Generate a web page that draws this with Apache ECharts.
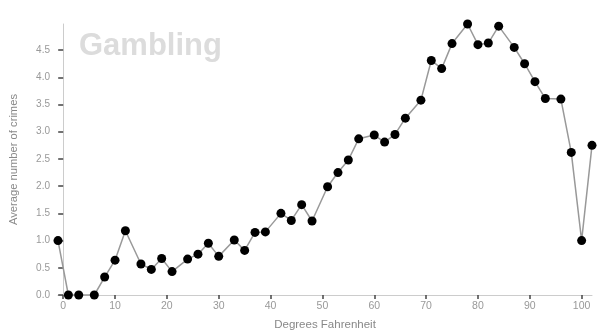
<!DOCTYPE html>
<html><head><meta charset="utf-8">
<script src="https://cdn.jsdelivr.net/npm/echarts@6/dist/echarts.min.js"></script>
<style>html,body{margin:0;padding:0;background:#fff}#c{width:600px;height:336px}</style>
</head><body><div id="c"></div>
<script>
const temps = [-1,1,3,6,8,10,12,15,17,19,21,24,26,28,30,33,35,37,39,42,44,46,48,51,53,55,57,60,62,64,66,69,71,73,75,78,80,82,84,87,89,91,93,96,98,100,102];
const crimes = [1.0,0,0,0,0.33,0.64,1.18,0.57,0.47,0.67,0.43,0.66,0.75,0.95,0.71,1.01,0.82,1.15,1.16,1.50,1.37,1.66,1.36,1.99,2.25,2.48,2.87,2.94,2.81,2.95,3.25,3.58,4.31,4.16,4.62,4.98,4.60,4.63,4.94,4.55,4.25,3.92,3.61,3.60,2.62,1.0,2.75];
const xTicks = [0,10,20,30,40,50,60,70,80,90,100];
const yTicks = [0,0.5,1,1.5,2,2.5,3,3.5,4,4.5];
const chartTitle = 'Gambling';
const xName = 'Degrees Fahrenheit';
const yName = 'Average number of crimes';

const font = 'Liberation Sans, Arial, Helvetica, sans-serif';
const chart = echarts.init(document.getElementById('c'));
chart.setOption({
  animation: false,
  title: { text: chartTitle, left: 74, top: 26, textStyle: { color: '#dcdcdc', fontSize: 31, fontWeight: 'bold', fontFamily: font } },
  grid: { left: 57, right: 8, top: 24, bottom: 41, containLabel: false },
  xAxis: {
    type: 'value', min: -1, max: 102,
    name: xName, nameLocation: 'middle', nameGap: 24,
    nameTextStyle: { color: '#888', fontSize: 11.5, fontFamily: font },
    axisLine: { show: true, lineStyle: { color: '#ccc', width: 1 } },
    axisTick: { show: true, customValues: xTicks, length: 4, lineStyle: { color: '#444', width: 1.5 } },
    axisLabel: { customValues: xTicks, color: '#999', fontSize: 10.5, fontFamily: font, margin: 6 },
    splitLine: { show: false }
  },
  yAxis: {
    type: 'value', min: 0, max: 4.98,
    name: yName, nameLocation: 'middle', nameGap: 39,
    nameTextStyle: { color: '#888', fontSize: 11.2, fontFamily: font },
    axisLine: { show: true, lineStyle: { color: '#ccc', width: 1 } },
    axisTick: { show: true, customValues: yTicks, length: 5, lineStyle: { color: '#444', width: 1.5 } },
    axisLabel: { customValues: yTicks, formatter: v => v.toFixed(1), color: '#999', fontSize: 10, fontFamily: font, margin: 8 },
    splitLine: { show: false }
  },
  series: [{
    type: 'line',
    data: temps.map((t, i) => [t, crimes[i]]),
    symbol: 'circle', symbolSize: 9,
    itemStyle: { color: '#000' },
    lineStyle: { color: '#999', width: 1.5 },
    clip: false
  }]
});
</script></body></html>
